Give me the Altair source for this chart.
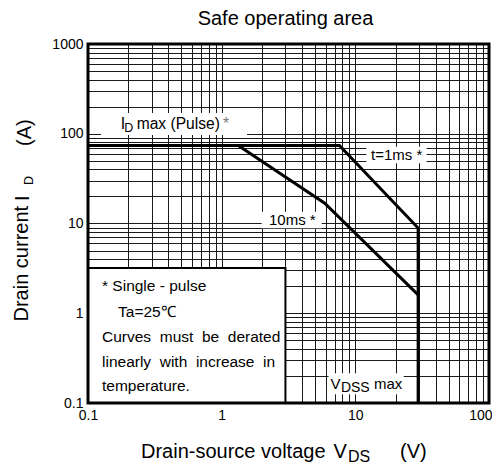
import altair as alt
import pandas as pd

FONT = "Liberation Sans"

# ---- data -------------------------------------------------------------
# outer SOA limit: ID max (pulse) -> 1 ms curve -> VDSS max
soa_v = [0.1, 7.6, 29.5, 29.5]
soa_i = [74, 74, 8.9, 0.1]
# 10 ms curve
ms10_v = [1.33, 5.9, 29.5]
ms10_i = [74, 16.8, 1.6]

x_domain = [0.1, 100]
y_domain = [0.1, 1000]
x_labels = [0.1, 1, 10, 100]
y_labels = [0.1, 1, 10, 100, 1000]
x_grid = [round(m * 10.0 ** e, 6) for e in (-1, 0, 1) for m in range(1, 10)] + [100]
y_grid = [round(m * 10.0 ** e, 6) for e in (-1, 0, 1, 2) for m in range(1, 10)] + [1000]

NB = " \u00a0"  # widened word gap (justified text in the reference)
note_lines = ["* Single - pulse", "Ta=25\u2103",
              NB.join(["Curves", "must", "be", "derated"]),
              NB.join(["linearly", "with", "increase", "in"]),
              "temperature."]

# ---- tables ---------------------------------------------------------------
lines_df = pd.DataFrame(
    {"v": soa_v + ms10_v,
     "i": soa_i + ms10_i,
     "s": ["soa"] * len(soa_v) + ["10ms"] * len(ms10_v),
     "o": list(range(len(soa_v))) + list(range(len(ms10_v)))})

# white label backgrounds (data coords)
boxes_df = pd.DataFrame({
    "v": [0.125, 12.1, 1.99, 6.3],
    "v2": [1.55, 34.1, 5.6, 23.0],
    "i": [97, 46.9, 8.84, 0.125],
    "i2": [170, 71.7, 13.5, 0.215],
})
note_box = pd.DataFrame({"v": [0.1], "v2": [3.0], "i": [0.1], "i2": [3.2]})

xs = alt.Scale(type="log", domain=x_domain, nice=False)
ys = alt.Scale(type="log", domain=y_domain, nice=False)


def axis(vals, labs, **kw):
    return alt.Axis(values=vals,
                    labelExpr="indexof(%s, datum.value) >= 0 ? datum.label : ''" % str(labs),
                    format="~g", grid=True, gridColor="#1a1a1a", gridWidth=1,
                    domain=False, ticks=False, labelFont=FONT, labelFontSize=14,
                    labelColor="black", labelPadding=5, labelFlush=False,
                    labelOverlap=False, title=None, **kw)


X = alt.X("v:Q", scale=xs,
          axis=axis(x_grid, x_labels,
                    labelAlign=alt.ExprRef(expr="datum.value == 100 ? 'right' : 'center'"),
                    labelOffset=alt.ExprRef(expr="datum.value == 100 ? 3 : 0")))
Y = alt.Y("i:Q", scale=ys, axis=axis(y_grid, y_labels))

label_boxes = alt.Chart(boxes_df).mark_rect(fill="white", strokeWidth=0).encode(
    x=X, x2="v2:Q", y=Y, y2="i2:Q")

lines = alt.Chart(lines_df).mark_line(color="black", strokeWidth=3,
                                       strokeJoin="miter").encode(
    x=X, y=Y, detail="s:N", order="o:Q")

note = alt.Chart(note_box).mark_rect(fill="white", stroke="black",
                                     strokeWidth=2).encode(
    x=X, x2="v2:Q", y=Y, y2="i2:Q")


def dtext(txt, v, i, size, align="left", baseline="alphabetic", color="black"):
    df = pd.DataFrame({"v": [v], "i": [i], "t": [txt]})
    return alt.Chart(df).mark_text(font=FONT, fontSize=size, align=align,
                                   baseline=baseline, color=color).encode(
        x=X, y=Y, text="t:N")


def ptext(txt, x, y, size, angle=0, align="left"):
    df = pd.DataFrame({"t": [txt]})
    return alt.Chart(df).mark_text(font=FONT, fontSize=size, align=align,
                                   baseline="alphabetic", angle=angle,
                                   color="black").encode(
        x=alt.value(x), y=alt.value(y), text="t:N")


texts = [
    dtext("I", 0.1756, 114.4, 16),
    dtext("D", 0.1868, 104.6, 12.5),
    dtext("max (Pulse)", 0.2313, 114.4, 15.6),
    dtext("*", 1.023, 114.4, 15.6, color="#777"),
    dtext("t=1ms *", 20.4, 58, 15, align="center", baseline="middle"),
    dtext("10ms *", 3.38, 10.9, 15, align="center", baseline="middle"),
    dtext("V", 6.51, 0.145, 15),
    dtext("DSS", 7.80, 0.1326, 14),
    dtext("max", 13.8, 0.145, 15),
    dtext(note_lines[0], 0.1273, 2.01, 15.5, baseline="middle"),
    dtext(note_lines[1], 0.1677, 1.03, 15.5, baseline="middle"),
    dtext(note_lines[2], 0.1273, 0.544, 15.5, baseline="middle"),
    dtext(note_lines[3], 0.1273, 0.286, 15.5, baseline="middle"),
    dtext(note_lines[4], 0.1273, 0.1546, 15.5, baseline="middle"),
    # chart title
    ptext("Safe operating area", 197.5, -19, 20, align="center"),
    # axis titles with subscripts
    ptext("Drain-source voltage", 53, 414, 20),
    ptext("V", 245.5, 414, 20),
    ptext("DS", 260, 417.5, 16),
    ptext("(V)", 312, 414, 20),
    ptext("Drain current", -60, 277.5, 20, angle=270),
    ptext("I", -59, 157, 20, angle=270),
    ptext("D", -55, 141, 12.5, angle=270),
    ptext("(A)", -57, 102, 20, angle=270),
]

frame_df = pd.DataFrame({"v": [x_domain[0]], "v2": [x_domain[1]],
                         "i": [y_domain[0]], "i2": [y_domain[1]]})
frame = alt.Chart(frame_df).mark_rect(filled=False, stroke="black",
                                      strokeWidth=3).encode(
    x=X, x2="v2:Q", y=Y, y2="i2:Q")

chart = alt.layer(label_boxes, lines, note, *texts, frame).properties(
    width=401, height=359,
    autosize=alt.AutoSizeParams(type="none"),
    padding={"left": 80, "top": 36, "right": 3, "bottom": 61},
).configure_view(stroke=None).configure(background="white")

chart.save("out.html", embed_options={"renderer": "svg", "actions": False})
